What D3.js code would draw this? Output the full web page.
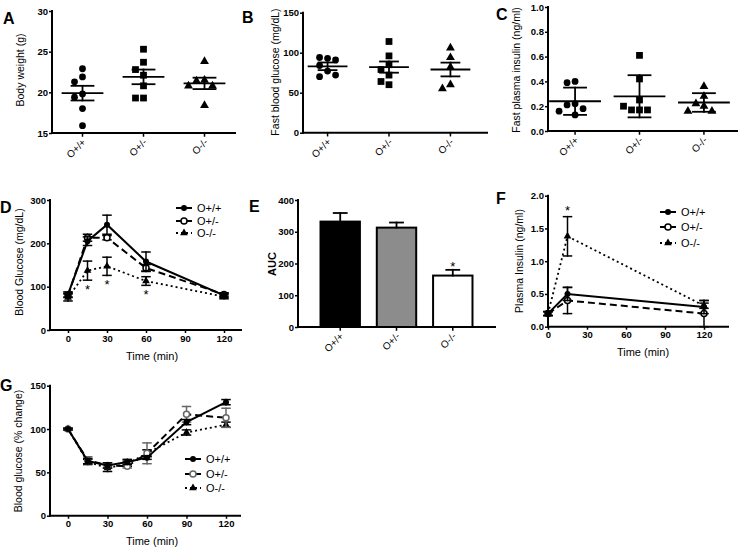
<!DOCTYPE html>
<html><head><meta charset="utf-8">
<script src="https://cdn.jsdelivr.net/npm/d3@7"></script>
<style>body{margin:0;background:#fff} svg{display:block}</style>
</head><body>
<svg id="c" width="739" height="551"></svg>
<script>
// ---------------- DATA ----------------
const groups = ["O+/+", "O+/-", "O-/-"];

// A: body weight (g) - individual mice, mean, SEM
const bodyWeight = [
  [22.9, 21.9, 21.3, 19.8, 19.4, 18.0, 15.9],
  [25.3, 23.7, 22.8, 22.1, 20.8, 19.3, 19.3],
  [23.8, 21.5, 21.4, 20.8, 20.8, 18.4]
];
const bodyWeightMean = [19.9, 21.9, 21.1];
const bodyWeightErr = [0.9, 0.9, 0.7];

// B: fasting blood glucose (mg/dL)
const fastGlucose = [
  [93, 94, 91, 84, 77, 70, 72],
  [114, 96, 85, 79, 72, 64, 60],
  [106, 94, 82, 60, 55]
];
const fastGlucoseMean = [83, 82, 79];
const fastGlucoseErr = [4.8, 7, 8.6];

// C: fasting plasma insulin (ng/ml)
const fastInsulin = [
  [0.40, 0.39, 0.22, 0.21, 0.18, 0.16, 0.13],
  [0.61, 0.42, 0.25, 0.17, 0.17, 0.17, 0.20],
  [0.36, 0.28, 0.22, 0.20, 0.16, 0.16]
];
const fastInsulinMean = [0.24, 0.28, 0.23];
const fastInsulinErr = [0.11, 0.17, 0.075];

// D: glucose tolerance test
const gttTime = [0, 15, 30, 60, 120];
const gttWT = [82, 205, 243, 158, 80];
const gttWTErr = [6, 10, 22, 22, 5];
const gttHet = [80, 213, 213, 143, 82];
const gttHetErr = [5, 8, 5, 8, 4];
const gttKO = [75, 137, 147, 113, 77];
const gttKOErr = [8, 22, 21, 10, 5];
const gttSignifTime = [15, 30, 60];

// E: area under curve
const auc = [332, 313, 162];
const aucErr = [27, 16, 18];

// F: plasma insulin during GTT (ng/ml)
const insTime = [0, 15, 120];
const insWT = [0.2, 0.5, 0.3];
const insWTErr = [0.03, 0.1, 0.1];
const insHet = [0.2, 0.4, 0.2];
const insHetErr = [0.03, 0.2, 0.2];
const insKO = [0.2, 1.38, 0.32];
const insKOErr = [0.03, 0.3, 0.04];

// G: insulin tolerance test (% change)
const ittTime = [0, 15, 30, 45, 60, 90, 120];
const ittWT = [100, 63, 58, 62, 67, 108, 131];
const ittWTErr = [1, 3, 3, 3, 2, 3, 3];
const ittHet = [100, 64, 58, 57, 72, 117, 113];
const ittHetErr = [1, 4, 3, 2, 12, 9, 11];
const ittKO = [100, 62, 55, 60, 72, 96, 105];
const ittKOErr = [1, 3, 4, 3, 4, 3, 3];

const timeTicks = [0, 30, 60, 90, 120];

// ---------------- DRAWING ----------------
const FONT = '"Liberation Sans", Arial, Helvetica, sans-serif';
const svg = d3.select("#c").attr("font-family", FONT);

function ln(x1, y1, x2, y2, w = 2, color = "#000") {
  svg.append("line").attr("x1", x1).attr("y1", y1).attr("x2", x2).attr("y2", y2)
    .attr("stroke", color).attr("stroke-width", w).attr("stroke-linecap", "square");
}
function txt(x, y, s, opts = {}) {
  const t = svg.append("text").attr("x", x).attr("y", y).text(s)
    .attr("font-size", opts.size || 11).attr("font-weight", opts.weight || "normal")
    .attr("text-anchor", opts.anchor || "start").attr("fill", "#000");
  if (opts.rotate !== undefined) t.attr("transform", `rotate(${opts.rotate},${x},${y})`);
  return t;
}
function styleTicks(g) {
  g.select(".domain").remove();
  g.selectAll(".tick line").attr("stroke", "#000").attr("stroke-width", 1.5);
  g.selectAll(".tick text").attr("fill", "#000").attr("font-size", 9.5)
    .attr("font-weight", "bold").attr("font-family", FONT);
}
function yAxis(y, left, ticks, fmt) {
  const g = svg.append("g").attr("transform", `translate(${left},0)`)
    .call(d3.axisLeft(y).tickValues(ticks).tickFormat(fmt).tickSize(3).tickPadding(1));
  styleTicks(g);
  const d = y.domain();
  ln(left, y(d[1]), left, y(d[0]));
}
function xAxisTime(x, y0, left, right) {
  const g = svg.append("g").attr("transform", `translate(0,${y0})`)
    .call(d3.axisBottom(x).tickValues(timeTicks).tickFormat(d3.format("d")).tickSize(3).tickPadding(2));
  styleTicks(g);
  ln(left, y0, right, y0);
}
function catAxis(x, y0, left, right) {
  ln(left, y0, right, y0);
  groups.forEach(gname => {
    ln(x(gname), y0, x(gname), y0 + 3, 1.5);
    txt(x(gname) + 4, y0 + 10, gname, { size: 10, anchor: "end", rotate: -45 });
  });
}
const symbols = [d3.symbolCircle, d3.symbolSquare, d3.symbolTriangle];
const symSizes = [36, 46, 34];

function swarm(ys) {
  const placed = [];
  return ys.map(y => {
    for (const k of [0, -1, 1, -2, 2, -3, 3]) {
      const xo = k * 8;
      if (placed.every(p => Math.hypot(p[0] - xo, p[1] - y) >= 7.5)) {
        placed.push([xo, y]); return xo;
      }
    }
    placed.push([0, y]); return 0;
  });
}

function scatterPanel(cfg) {
  const { left, right, top, bottom, markRange, pad, yDomain, ticks, fmt, data, mean, err, meanW, capW } = cfg;
  const x = d3.scalePoint().domain(groups).range(markRange).padding(pad);
  const y = d3.scaleLinear().domain(yDomain).range([bottom, top]);
  yAxis(y, left, ticks, fmt);
  catAxis(x, bottom, left, right);
  data.forEach((vals, gi) => {
    const cx = x(groups[gi]);
    const offs = swarm(vals.map(v => y(v)));
    vals.forEach((v, i) => {
      svg.append("path").attr("d", d3.symbol().type(symbols[gi]).size(symSizes[gi])())
        .attr("transform", `translate(${cx + offs[i]},${y(v)})`).attr("fill", "#000");
    });
    const m = mean[gi], e = err[gi];
    ln(cx - meanW / 2, y(m), cx + meanW / 2, y(m), 1.8);
    ln(cx, y(m + e), cx, y(m - e), 1.8);
    ln(cx - capW / 2, y(m + e), cx + capW / 2, y(m + e), 1.8);
    ln(cx - capW / 2, y(m - e), cx + capW / 2, y(m - e), 1.8);
  });
}

const styles = [
  { dash: null, width: 2, marker: "dot" },
  { dash: "7,4", width: 2, marker: "open" },
  { dash: "2,3", width: 1.8, marker: "tri" }
];
function marker(cx, cy, type, color = "#000") {
  if (type === "dot") svg.append("circle").attr("cx", cx).attr("cy", cy).attr("r", 3).attr("fill", color);
  else if (type === "open") svg.append("circle").attr("cx", cx).attr("cy", cy).attr("r", 3)
    .attr("fill", "#fff").attr("stroke", color).attr("stroke-width", 1.5);
  else svg.append("path").attr("d", d3.symbol().type(d3.symbolTriangle).size(26)())
    .attr("transform", `translate(${cx},${cy})`).attr("fill", color);
}
function linePanel(cfg) {
  const { x, y, times, series, capW, hetColor } = cfg;
  // draw KO first, WT last
  [2, 1, 0].forEach(si => {
    const s = series[si], st = styles[si];
    const col = (si === 1 && hetColor) ? hetColor : "#000";
    const gen = d3.line().x((d, i) => x(times[i])).y(d => y(d));
    svg.append("path").attr("d", gen(s.vals)).attr("fill", "none").attr("stroke", "#000")
      .attr("stroke-width", st.width).attr("stroke-dasharray", st.dash);
    s.vals.forEach((v, i) => {
      const cx = x(times[i]);
      const hi = y(v + s.err[i]), lo = y(v - s.err[i]);
      ln(cx, hi, cx, lo, 1.5, col);
      ln(cx - capW / 2, hi, cx + capW / 2, hi, 1.5, col);
      ln(cx - capW / 2, lo, cx + capW / 2, lo, 1.5, col);
      marker(cx, y(v), st.marker, col);
    });
  });
}
function legend(x0, rows, hetColor) {
  groups.forEach((gname, i) => {
    const st = styles[i];
    const col = (i === 1 && hetColor) ? hetColor : "#000";
    svg.append("line").attr("x1", x0).attr("x2", x0 + 16).attr("y1", rows[i]).attr("y2", rows[i])
      .attr("stroke", "#000").attr("stroke-width", st.width).attr("stroke-dasharray", st.dash);
    marker(x0 + 8, rows[i], st.marker, col);
    txt(x0 + 21, rows[i] + 4, gname, { size: 11 });
  });
}

// ---- Panel A ----
scatterPanel({ left: 52, right: 235, top: 11, bottom: 133, markRange: [52, 235], pad: 0.5,
  yDomain: [15, 30], ticks: [15, 20, 25, 30], fmt: d3.format("d"),
  data: bodyWeight, mean: bodyWeightMean, err: bodyWeightErr, meanW: 40, capW: 22 });
txt(24, 70, "Body weight (g)", { size: 10.5, anchor: "middle", rotate: -90 });
txt(3, 24, "A", { size: 16, weight: "bold" });

// ---- Panel B ----
scatterPanel({ left: 303, right: 487, top: 12.7, bottom: 132.7, markRange: [303, 475], pad: 0.4,
  yDomain: [0, 150], ticks: [0, 50, 100, 150], fmt: d3.format("d"),
  data: fastGlucose, mean: fastGlucoseMean, err: fastGlucoseErr, meanW: 38, capW: 18 });
txt(279, 72, "Fast blood glucose (mg/dL)", { size: 10.5, anchor: "middle", rotate: -90 });
txt(242, 23, "B", { size: 16, weight: "bold" });

// ---- Panel C ----
scatterPanel({ left: 548, right: 737, top: 7, bottom: 131, markRange: [548, 731], pad: 0.42,
  yDomain: [0, 1], ticks: [0, 0.2, 0.4, 0.6, 0.8, 1.0], fmt: d3.format(".1f"),
  data: fastInsulin, mean: fastInsulinMean, err: fastInsulinErr, meanW: 50, capW: 22 });
txt(520, 70, "Fast plasma insulin (ng/ml)", { size: 10.5, anchor: "middle", rotate: -90 });
txt(496, 19.5, "C", { size: 16, weight: "bold" });

// ---- Panel D ----
{
  const x = d3.scaleLinear().domain([0, 120]).range([68, 224]);
  const y = d3.scaleLinear().domain([0, 300]).range([330, 200]);
  yAxis(y, 50, [0, 100, 200, 300], d3.format("d"));
  xAxisTime(x, 330, 50, 241);
  linePanel({ x, y, times: gttTime, capW: 8, series: [
    { vals: gttWT, err: gttWTErr }, { vals: gttHet, err: gttHetErr }, { vals: gttKO, err: gttKOErr }] });
  gttSignifTime.forEach(t => {
    const i = gttTime.indexOf(t);
    txt(x(t), y(gttKO[i] - gttKOErr[i]) + 14, "*", { size: 13, anchor: "middle" });
  });
  legend(176, [208, 221, 233]);
  txt(23, 262, "Blood Glucose (mg/dL)", { size: 10.5, anchor: "middle", rotate: -90 });
  txt(152, 360, "Time (min)", { size: 11, anchor: "middle" });
  txt(0, 213, "D", { size: 16, weight: "bold" });
}

// ---- Panel E ----
{
  const x = d3.scaleBand().domain(groups).range([298, 495]).paddingInner(0.3).paddingOuter(0.4);
  const y = d3.scaleLinear().domain([0, 400]).range([327, 200]);
  const fills = ["#000", "#8c8c8c", "#fff"];
  yAxis(y, 298, [0, 100, 200, 300, 400], d3.format("d"));
  groups.forEach((gname, i) => {
    const cx = x(gname) + x.bandwidth() / 2;
    svg.append("rect").attr("x", x(gname)).attr("y", y(auc[i])).attr("width", x.bandwidth())
      .attr("height", y(0) - y(auc[i])).attr("fill", fills[i]).attr("stroke", "#000").attr("stroke-width", 2);
    ln(cx, y(auc[i]), cx, y(auc[i] + aucErr[i]), 1.8);
    ln(cx - 6.5, y(auc[i] + aucErr[i]), cx + 6.5, y(auc[i] + aucErr[i]), 1.8);
  });
  const xp = d3.scalePoint().domain(groups).range([x(groups[0]) + x.bandwidth() / 2, x(groups[2]) + x.bandwidth() / 2]);
  catAxis(xp, 327, 298, 495);
  txt(xp(groups[2]), y(auc[2] + aucErr[2]) + 1.5, "*", { size: 13, anchor: "middle" });
  txt(276, 264, "AUC", { size: 11, weight: "bold", anchor: "middle", rotate: -90 });
  txt(249, 212, "E", { size: 16, weight: "bold" });
}

// ---- Panel F ----
{
  const x = d3.scaleLinear().domain([0, 120]).range([548, 704]);
  const y = d3.scaleLinear().domain([0, 2]).range([326.7, 195.7]);
  yAxis(y, 548, [0, 0.5, 1.0, 1.5, 2.0], d3.format(".1f"));
  xAxisTime(x, 326.7, 548, 728);
  linePanel({ x, y, times: insTime, capW: 8, series: [
    { vals: insWT, err: insWTErr }, { vals: insHet, err: insHetErr }, { vals: insKO, err: insKOErr }] });
  txt(x(15), y(insKO[1] + insKOErr[1]) - 1.5, "*", { size: 13, anchor: "middle" });
  legend(660, [212, 227, 243]);
  txt(523, 261, "Plasma Insulin (ng/ml)", { size: 10.5, anchor: "middle", rotate: -90 });
  txt(643, 356, "Time (min)", { size: 11, anchor: "middle" });
  txt(496, 204, "F", { size: 16, weight: "bold" });
}

// ---- Panel G ----
{
  const x = d3.scaleLinear().domain([0, 120]).range([68, 226]);
  const y = d3.scaleLinear().domain([0, 150]).range([515.7, 385.7]);
  yAxis(y, 50, [0, 50, 100, 150], d3.format("d"));
  xAxisTime(x, 515.7, 50, 240);
  linePanel({ x, y, times: ittTime, capW: 8, hetColor: "#666", series: [
    { vals: ittWT, err: ittWTErr }, { vals: ittHet, err: ittHetErr }, { vals: ittKO, err: ittKOErr }] });
  legend(185, [459, 474, 488], "#666");
  txt(22, 451, "Blood glucose (% change)", { size: 10.5, anchor: "middle", rotate: -90 });
  txt(152, 545, "Time (min)", { size: 11, anchor: "middle" });
  txt(0, 391, "G", { size: 16, weight: "bold" });
}
</script>
</body></html>
